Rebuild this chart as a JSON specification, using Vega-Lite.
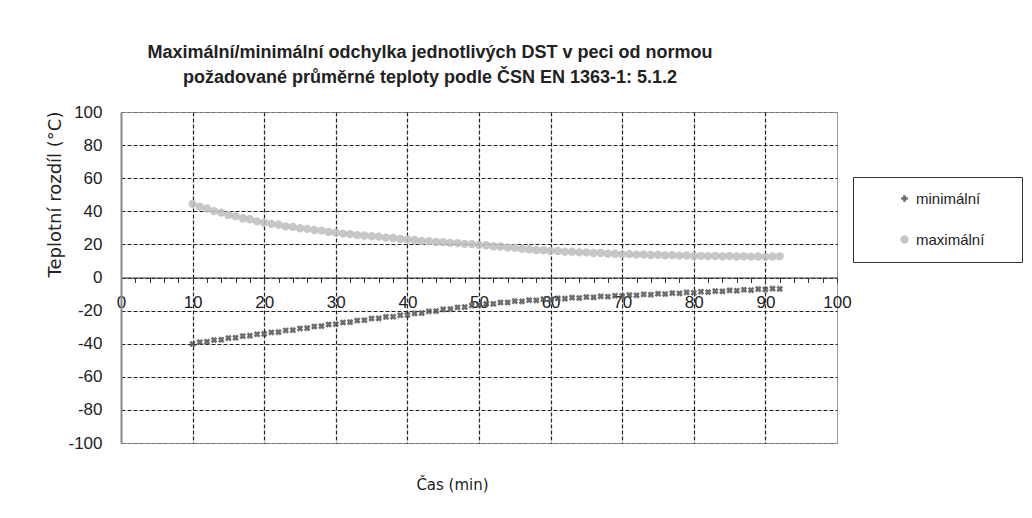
{
  "$schema": "https://vega.github.io/schema/vega-lite/v6.json",
  "autosize": {"type": "none"},
  "width": 716,
  "height": 331,
  "padding": {"left": 121, "top": 112, "right": 195, "bottom": 75},
  "background": "white",
  "config": {
    "font": "Liberation Sans",
    "view": {"stroke": "#999", "strokeWidth": 1}
  },
  "title": {
    "text": ["Maximální/minimální odchylka jednotlivých DST v peci od normou", "požadované průměrné teploty podle ČSN EN  1363-1:  5.1.2"],
    "frame": "group",
    "anchor": "start",
    "align": "center",
    "dx": 309,
    "offset": 16,
    "fontSize": 18,
    "fontWeight": "bold",
    "color": "#222",
    "lineHeight": 25
  },
  "data": {
    "values": [
      {"t":10,"v":44.5,"s":"maximální"},{"t":11,"v":42.8,"s":"maximální"},{"t":12,"v":41.7,"s":"maximální"},{"t":13,"v":40.1,"s":"maximální"},{"t":14,"v":39.2,"s":"maximální"},{"t":15,"v":37.8,"s":"maximální"},{"t":16,"v":37.1,"s":"maximální"},{"t":17,"v":35.8,"s":"maximální"},{"t":18,"v":35.2,"s":"maximální"},{"t":19,"v":33.9,"s":"maximální"},
      {"t":20,"v":33.1,"s":"maximální"},{"t":21,"v":32.4,"s":"maximální"},{"t":22,"v":31.9,"s":"maximální"},{"t":23,"v":30.9,"s":"maximální"},{"t":24,"v":30.6,"s":"maximální"},{"t":25,"v":29.8,"s":"maximální"},{"t":26,"v":29.4,"s":"maximální"},{"t":27,"v":28.7,"s":"maximální"},{"t":28,"v":28.3,"s":"maximální"},{"t":29,"v":27.5,"s":"maximální"},
      {"t":30,"v":27.1,"s":"maximální"},{"t":31,"v":26.5,"s":"maximální"},{"t":32,"v":26.2,"s":"maximální"},{"t":33,"v":25.6,"s":"maximální"},{"t":34,"v":25.4,"s":"maximální"},{"t":35,"v":24.9,"s":"maximální"},{"t":36,"v":24.7,"s":"maximální"},{"t":37,"v":24.1,"s":"maximální"},{"t":38,"v":23.9,"s":"maximální"},{"t":39,"v":23.3,"s":"maximální"},
      {"t":40,"v":23.0,"s":"maximální"},{"t":41,"v":22.7,"s":"maximální"},{"t":42,"v":22.1,"s":"maximální"},{"t":43,"v":22.0,"s":"maximální"},{"t":44,"v":21.5,"s":"maximální"},{"t":45,"v":21.4,"s":"maximální"},{"t":46,"v":20.9,"s":"maximální"},{"t":47,"v":20.8,"s":"maximální"},{"t":48,"v":20.3,"s":"maximální"},{"t":49,"v":20.2,"s":"maximální"},
      {"t":50,"v":19.7,"s":"maximální"},{"t":51,"v":19.5,"s":"maximální"},{"t":52,"v":18.9,"s":"maximální"},{"t":53,"v":18.7,"s":"maximální"},{"t":54,"v":18.1,"s":"maximální"},{"t":55,"v":17.9,"s":"maximální"},{"t":56,"v":17.3,"s":"maximální"},{"t":57,"v":17.1,"s":"maximální"},{"t":58,"v":16.6,"s":"maximální"},{"t":59,"v":16.5,"s":"maximální"},
      {"t":60,"v":16.0,"s":"maximální"},{"t":61,"v":16.0,"s":"maximální"},{"t":62,"v":15.6,"s":"maximální"},{"t":63,"v":15.6,"s":"maximální"},{"t":64,"v":15.2,"s":"maximální"},{"t":65,"v":15.2,"s":"maximální"},{"t":66,"v":14.8,"s":"maximální"},{"t":67,"v":14.8,"s":"maximální"},{"t":68,"v":14.4,"s":"maximální"},{"t":69,"v":14.4,"s":"maximální"},
      {"t":70,"v":14.0,"s":"maximální"},{"t":71,"v":14.1,"s":"maximální"},{"t":72,"v":13.8,"s":"maximální"},{"t":73,"v":13.9,"s":"maximální"},{"t":74,"v":13.6,"s":"maximální"},{"t":75,"v":13.7,"s":"maximální"},{"t":76,"v":13.4,"s":"maximální"},{"t":77,"v":13.5,"s":"maximální"},{"t":78,"v":13.2,"s":"maximální"},{"t":79,"v":13.3,"s":"maximální"},
      {"t":80,"v":13.0,"s":"maximální"},{"t":81,"v":13.1,"s":"maximální"},{"t":82,"v":12.9,"s":"maximální"},{"t":83,"v":13.0,"s":"maximální"},{"t":84,"v":12.8,"s":"maximální"},{"t":85,"v":12.9,"s":"maximální"},{"t":86,"v":12.7,"s":"maximální"},{"t":87,"v":12.8,"s":"maximální"},{"t":88,"v":12.6,"s":"maximální"},{"t":89,"v":12.7,"s":"maximální"},
      {"t":90,"v":12.5,"s":"maximální"},{"t":91,"v":12.7,"s":"maximální"},{"t":92,"v":12.8,"s":"maximální"},
      {"t":10,"v":-40.2,"s":"minimální"},{"t":11,"v":-39.1,"s":"minimální"},{"t":12,"v":-38.8,"s":"minimální"},{"t":13,"v":-37.8,"s":"minimální"},{"t":14,"v":-37.6,"s":"minimální"},{"t":15,"v":-36.6,"s":"minimální"},{"t":16,"v":-36.4,"s":"minimální"},{"t":17,"v":-35.4,"s":"minimální"},{"t":18,"v":-35.2,"s":"minimální"},{"t":19,"v":-34.3,"s":"minimální"},
      {"t":20,"v":-34.1,"s":"minimální"},{"t":21,"v":-33.2,"s":"minimální"},{"t":22,"v":-33.0,"s":"minimální"},{"t":23,"v":-32.0,"s":"minimální"},{"t":24,"v":-31.8,"s":"minimální"},{"t":25,"v":-30.8,"s":"minimální"},{"t":26,"v":-30.6,"s":"minimální"},{"t":27,"v":-29.6,"s":"minimální"},{"t":28,"v":-29.4,"s":"minimální"},{"t":29,"v":-28.4,"s":"minimální"},
      {"t":30,"v":-28.2,"s":"minimální"},{"t":31,"v":-27.2,"s":"minimální"},{"t":32,"v":-27.0,"s":"minimální"},{"t":33,"v":-26.0,"s":"minimální"},{"t":34,"v":-25.8,"s":"minimální"},{"t":35,"v":-24.8,"s":"minimální"},{"t":36,"v":-24.7,"s":"minimální"},{"t":37,"v":-23.8,"s":"minimální"},{"t":38,"v":-23.7,"s":"minimální"},{"t":39,"v":-22.8,"s":"minimální"},
      {"t":40,"v":-22.6,"s":"minimální"},{"t":41,"v":-21.7,"s":"minimální"},{"t":42,"v":-21.5,"s":"minimální"},{"t":43,"v":-20.5,"s":"minimální"},{"t":44,"v":-20.3,"s":"minimální"},{"t":45,"v":-19.3,"s":"minimální"},{"t":46,"v":-19.1,"s":"minimální"},{"t":47,"v":-18.1,"s":"minimální"},{"t":48,"v":-17.9,"s":"minimální"},{"t":49,"v":-16.9,"s":"minimální"},
      {"t":50,"v":-16.6,"s":"minimální"},{"t":51,"v":-15.9,"s":"minimální"},{"t":52,"v":-15.9,"s":"minimální"},{"t":53,"v":-15.1,"s":"minimální"},{"t":54,"v":-15.1,"s":"minimální"},{"t":55,"v":-14.3,"s":"minimální"},{"t":56,"v":-14.4,"s":"minimální"},{"t":57,"v":-13.7,"s":"minimální"},{"t":58,"v":-13.8,"s":"minimální"},{"t":59,"v":-13.1,"s":"minimální"},
      {"t":60,"v":-13.2,"s":"minimální"},{"t":61,"v":-12.6,"s":"minimální"},{"t":62,"v":-12.8,"s":"minimální"},{"t":63,"v":-12.2,"s":"minimální"},{"t":64,"v":-12.4,"s":"minimální"},{"t":65,"v":-11.8,"s":"minimální"},{"t":66,"v":-12.0,"s":"minimální"},{"t":67,"v":-11.4,"s":"minimální"},{"t":68,"v":-11.6,"s":"minimální"},{"t":69,"v":-11.0,"s":"minimální"},
      {"t":70,"v":-11.2,"s":"minimální"},{"t":71,"v":-10.6,"s":"minimální"},{"t":72,"v":-10.8,"s":"minimální"},{"t":73,"v":-10.2,"s":"minimální"},{"t":74,"v":-10.4,"s":"minimální"},{"t":75,"v":-9.8,"s":"minimální"},{"t":76,"v":-10.0,"s":"minimální"},{"t":77,"v":-9.4,"s":"minimální"},{"t":78,"v":-9.6,"s":"minimální"},{"t":79,"v":-9.0,"s":"minimální"},
      {"t":80,"v":-9.2,"s":"minimální"},{"t":81,"v":-8.6,"s":"minimální"},{"t":82,"v":-8.8,"s":"minimální"},{"t":83,"v":-8.2,"s":"minimální"},{"t":84,"v":-8.4,"s":"minimální"},{"t":85,"v":-7.8,"s":"minimální"},{"t":86,"v":-8.0,"s":"minimální"},{"t":87,"v":-7.4,"s":"minimální"},{"t":88,"v":-7.6,"s":"minimální"},{"t":89,"v":-7.0,"s":"minimální"},
      {"t":90,"v":-7.2,"s":"minimální"},{"t":91,"v":-6.7,"s":"minimální"},{"t":92,"v":-6.9,"s":"minimální"}
    ]
  },
  "mark": {"type": "point", "filled": true, "opacity": 0.85, "angle": 45},
  "encoding": {
    "x": {
      "field": "t",
      "type": "quantitative",
      "scale": {"domain": [0, 100], "nice": false},
      "axis": {
        "title": "Čas (min)",
        "titleFont": "DejaVu Sans",
        "titleFontSize": 15,
        "titleFontWeight": "normal",
        "titleColor": "#222",
        "titleX": 331,
        "titleY": 200,
        "offset": -165.5,
        "values": [0,2,4,6,8,10,12,14,16,18,20,22,24,26,28,30,32,34,36,38,40,42,44,46,48,50,52,54,56,58,60,62,64,66,68,70,72,74,76,78,80,82,84,86,88,90,92,94,96,98,100],
        "labelExpr": "datum.value % 10 === 0 ? toString(datum.value) : ''",
        "labelFontSize": 17,
        "labelColor": "#222",
        "labelPadding": 12,
        "labelFlush": false,
        "labelOverlap": false,
        "domainColor": "#333",
        "domainWidth": 1.2,
        "tickColor": "#333",
        "tickSize": 5,
        "grid": true,
        "gridColor": "#222",
        "gridDash": [4, 2],
        "gridWidth": 1.2,
        "gridOpacity": {"condition": {"test": "datum.value % 10 === 0 && datum.value > 0 && datum.value < 100", "value": 1}, "value": 0}
      }
    },
    "y": {
      "field": "v",
      "type": "quantitative",
      "scale": {"domain": [-100, 100], "nice": false},
      "axis": {
        "title": "Teplotní rozdíl (°C)",
        "titleFont": "DejaVu Sans",
        "titleFontSize": 18,
        "titleFontWeight": "normal",
        "titleColor": "#222",
        "titleAngle": 270,
        "titleAlign": "center",
        "titleBaseline": "middle",
        "titleX": -66,
        "titleY": 82,
        "values": [-100,-80,-60,-40,-20,0,20,40,60,80,100],
        "labelExpr": "toString(datum.value)",
        "labelFontSize": 17,
        "labelColor": "#222",
        "labelPadding": 19,
        "ticks": false,
        "domainColor": "#888",
        "domainWidth": 2,
        "grid": true,
        "gridColor": "#222",
        "gridDash": [4, 2],
        "gridWidth": 1.2,
        "gridOpacity": {"condition": {"test": "abs(datum.value) === 100", "value": 0.3}, "value": 1}
      }
    },
    "color": {
      "field": "s",
      "type": "nominal",
      "scale": {"domain": ["minimální", "maximální"], "range": ["#555555", "#bdbdbd"]},
      "legend": {
        "title": null,
        "orient": "none",
        "legendX": 732,
        "legendY": 65,
        "strokeColor": "#333",
        "padding": 14,
        "symbolOffset": 30,
        "rowPadding": 25,
        "labelFontSize": 15,
        "labelColor": "#222",
        "labelLimit": 400,
        "symbolSize": 60,
        "labelExpr": "datum.label + '   \u2800'"
      }
    },
    "shape": {
      "field": "s",
      "type": "nominal",
      "scale": {"domain": ["minimální", "maximální"], "range": ["cross", "circle"]},
      "legend": null
    },
    "size": {
      "field": "s",
      "type": "nominal",
      "scale": {"domain": ["minimální", "maximální"], "range": [45, 70]},
      "legend": null
    }
  }
}
